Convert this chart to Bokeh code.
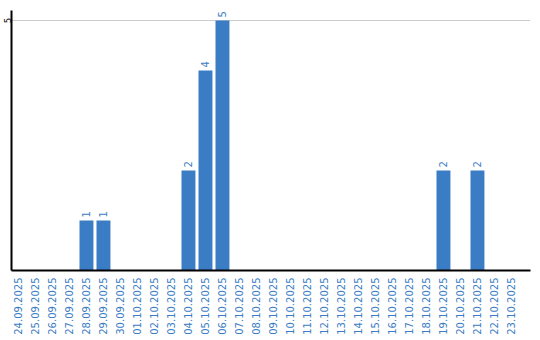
from bokeh.plotting import figure
from bokeh.models import Range1d, FixedTicker, ColumnDataSource
from bokeh.core.properties import value
from bokeh.embed import file_html
from bokeh.resources import INLINE

dates = ["24.09.2025", "25.09.2025", "26.09.2025", "27.09.2025", "28.09.2025",
         "29.09.2025", "30.09.2025", "01.10.2025", "02.10.2025", "03.10.2025",
         "04.10.2025", "05.10.2025", "06.10.2025", "07.10.2025", "08.10.2025",
         "09.10.2025", "10.10.2025", "11.10.2025", "12.10.2025", "13.10.2025",
         "14.10.2025", "15.10.2025", "16.10.2025", "17.10.2025", "18.10.2025",
         "19.10.2025", "20.10.2025", "21.10.2025", "22.10.2025", "23.10.2025"]
counts = [0, 0, 0, 0, 1, 1, 0, 0, 0, 0, 2, 4, 5, 0, 0,
          0, 0, 0, 0, 0, 0, 0, 0, 0, 0, 2, 0, 2, 0, 0]
y_ticks = [5]

BLUE = "#3b7dc4"
FONT = "DejaVu Sans"

xs = list(range(len(dates)))
src = ColumnDataSource(dict(x=xs, top=counts))
lab_x = [x for x, c in zip(xs, counts) if c > 0]
lab_y = [c for c in counts if c > 0]
lab_t = [str(c) for c in counts if c > 0]
lsrc = ColumnDataSource(dict(x=lab_x, y=lab_y, t=lab_t))

p = figure(width=540, height=340, output_backend="svg", toolbar_location=None,
           x_range=Range1d(-0.41, 30.12), y_range=Range1d(0, 5.2),
           min_border_left=0, min_border_right=10, min_border_top=10,
           min_border_bottom=70)
p.outline_line_color = None
p.background_fill_color = "white"

p.vbar(x="x", top="top", width=0.82, source=src, fill_color=BLUE, line_color=None)
p.text(x="x", y="y", text="t", source=lsrc, angle=1.5708, text_align="left",
       text_baseline="middle", y_offset=-3, text_color=BLUE,
       text_font=value(FONT), text_font_size="10px")

p.xgrid.grid_line_color = None
p.ygrid.grid_line_color = "#cccccc"
p.ygrid.grid_line_width = 1

p.xaxis.ticker = FixedTicker(ticks=xs)
p.xaxis.major_label_overrides = {i: d for i, d in enumerate(dates)}
p.xaxis.major_label_orientation = 1.5708
p.xaxis.major_label_text_color = BLUE
p.xaxis.major_label_text_font = FONT
p.xaxis.major_label_text_font_size = "10px"
p.xaxis.major_tick_line_color = None
p.xaxis.major_tick_out = 0
p.xaxis.major_tick_in = 0
p.xaxis.minor_tick_line_color = None
p.xaxis.minor_tick_out = 0
p.xaxis.major_label_standoff = 7
p.xaxis.axis_label_standoff = 0
p.xaxis.axis_line_color = "black"
p.xaxis.axis_line_width = 2

p.yaxis.ticker = FixedTicker(ticks=y_ticks)
p.yaxis.major_label_orientation = "vertical"
p.yaxis.major_label_text_color = "black"
p.yaxis.major_label_text_font = FONT
p.yaxis.major_label_text_font_size = "8px"
p.yaxis.major_tick_line_color = None
p.yaxis.major_tick_out = 0
p.yaxis.major_tick_in = 0
p.yaxis.minor_tick_line_color = None
p.yaxis.minor_tick_out = 0
p.yaxis.major_label_standoff = 1
p.yaxis.axis_label_standoff = 0
p.yaxis.axis_line_color = "black"
p.yaxis.axis_line_width = 2

open("out.html", "w").write(file_html(p, INLINE))
